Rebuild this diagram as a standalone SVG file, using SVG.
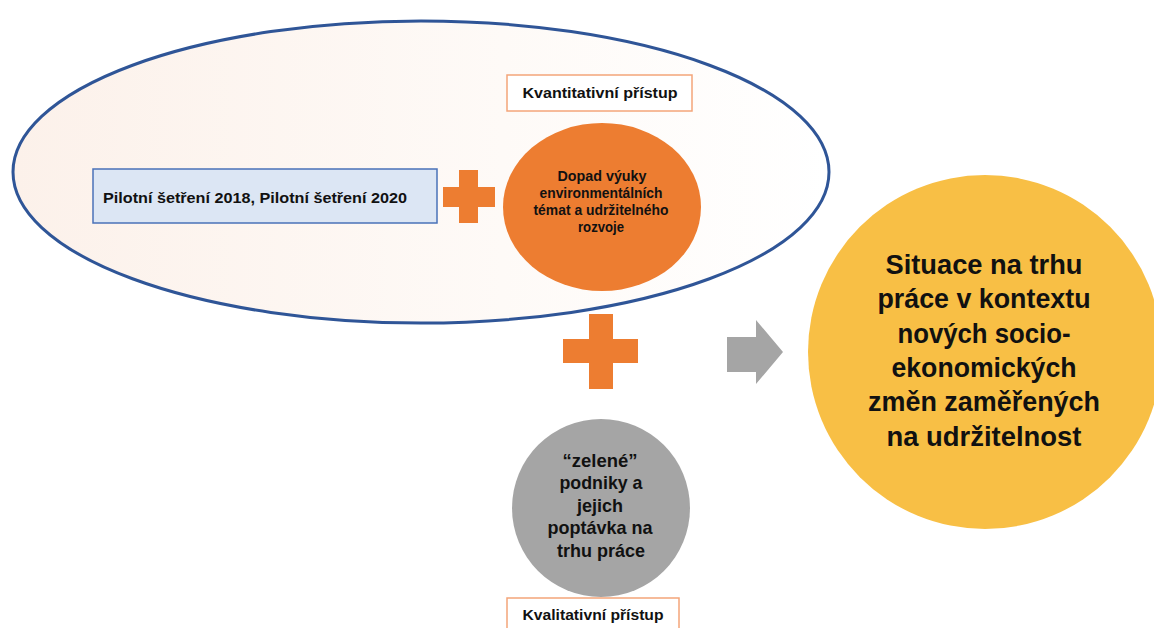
<svg xmlns="http://www.w3.org/2000/svg" width="1154" height="628" viewBox="0 0 1154 628">
  <defs>
    <linearGradient id="ellGrad" x1="0" y1="0" x2="1" y2="0">
      <stop offset="0" stop-color="#FCF1EA"/>
      <stop offset="0.6" stop-color="#FEFAF7"/>
      <stop offset="1" stop-color="#FFFFFF"/>
    </linearGradient>
    <style>
      .t { font-family: "Liberation Sans", Arial, sans-serif; font-weight: bold; fill: #111; text-anchor: middle; }
      .plus { fill: #ED7D31; }
      .label { fill: #FFFFFF; stroke: #F4A57A; stroke-width: 1.5; }
    </style>
  </defs>
  <rect width="1154" height="628" fill="#FFFFFF"/>

  <g id="scope-ellipse">
    <ellipse cx="421" cy="172" rx="408" ry="151" fill="url(#ellGrad)" stroke="#2F5597" stroke-width="3"/>
  </g>

  <g id="node-pilot">
    <rect x="93" y="169" width="344" height="54" fill="#DCE6F4" stroke="#4A72B8" stroke-width="1.5"/>
    <text class="t" x="255" y="203" font-size="15" textLength="304" lengthAdjust="spacingAndGlyphs" style="text-anchor:middle">Pilotní šetření 2018, Pilotní šetření 2020</text>
  </g>

  <g id="plus-1">
    <rect class="plus" x="459" y="170" width="19" height="53"/>
    <rect class="plus" x="443" y="187" width="52" height="20"/>
  </g>

  <g id="label-kvantitativni">
    <rect class="label" x="507" y="75" width="185" height="36"/>
    <text class="t" x="600" y="98" font-size="15" textLength="155" lengthAdjust="spacingAndGlyphs">Kvantitativní přístup</text>
  </g>

  <g id="node-dopad">
    <ellipse cx="602" cy="207" rx="99" ry="84" fill="#ED7D31"/>
    <text class="t" x="602" y="181" font-size="14" textLength="89" lengthAdjust="spacingAndGlyphs">Dopad výuky</text>
    <text class="t" x="601" y="198" font-size="14" textLength="123" lengthAdjust="spacingAndGlyphs">environmentálních</text>
    <text class="t" x="601" y="215" font-size="14" textLength="135" lengthAdjust="spacingAndGlyphs">témat a udržitelného</text>
    <text class="t" x="601" y="232" font-size="14" textLength="46" lengthAdjust="spacingAndGlyphs">rozvoje</text>
  </g>

  <g id="plus-2">
    <rect class="plus" x="589" y="314" width="24" height="75"/>
    <rect class="plus" x="563" y="339" width="75" height="24"/>
  </g>

  <g id="connectors">
    <path d="M727,337 L756,337 L756,320 L783,352 L756,384 L756,372 L727,372 Z" fill="#A5A5A5"/>
  </g>

  <g id="node-zelene">
    <circle cx="601" cy="508" r="89" fill="#A5A5A5"/>
    <text class="t" x="600" y="467" font-size="19" textLength="75" lengthAdjust="spacingAndGlyphs">“zelené”</text>
    <text class="t" x="601" y="489" font-size="19" textLength="83" lengthAdjust="spacingAndGlyphs">podniky a</text>
    <text class="t" x="600" y="512" font-size="19" textLength="46" lengthAdjust="spacingAndGlyphs">jejich</text>
    <text class="t" x="600" y="534" font-size="19" textLength="105" lengthAdjust="spacingAndGlyphs">poptávka na</text>
    <text class="t" x="601" y="557" font-size="19" textLength="88" lengthAdjust="spacingAndGlyphs">trhu práce</text>
  </g>

  <g id="label-kvalitativni">
    <rect class="label" x="507" y="598" width="172" height="34"/>
    <text class="t" x="593" y="620" font-size="15" textLength="141" lengthAdjust="spacingAndGlyphs">Kvalitativní přístup</text>
  </g>

  <g id="node-situace">
    <circle cx="985" cy="352" r="177" fill="#F8BF45"/>
    <text class="t" x="984" y="274" font-size="27" textLength="197" lengthAdjust="spacingAndGlyphs">Situace na trhu</text>
    <text class="t" x="984" y="308" font-size="27" textLength="213" lengthAdjust="spacingAndGlyphs">práce v kontextu</text>
    <text class="t" x="984" y="343" font-size="27" textLength="173" lengthAdjust="spacingAndGlyphs">nových socio-</text>
    <text class="t" x="984" y="377" font-size="27" textLength="185" lengthAdjust="spacingAndGlyphs">ekonomických</text>
    <text class="t" x="984" y="411" font-size="27" textLength="232" lengthAdjust="spacingAndGlyphs">změn zaměřených</text>
    <text class="t" x="984" y="446" font-size="27" textLength="195" lengthAdjust="spacingAndGlyphs">na udržitelnost</text>
  </g>
</svg>
